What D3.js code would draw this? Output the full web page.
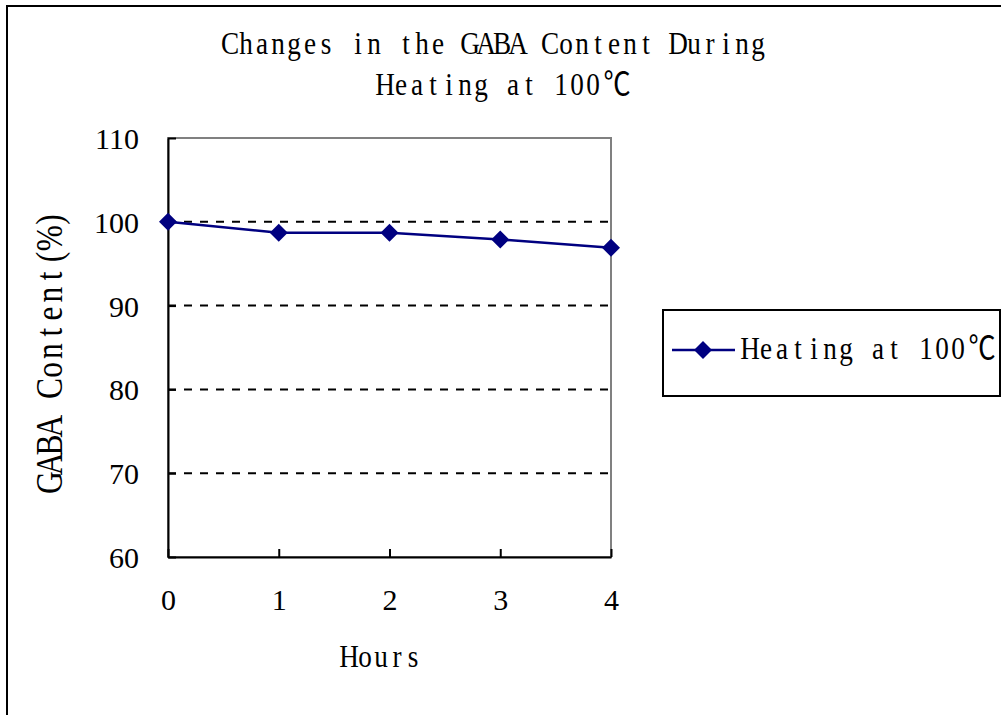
<!DOCTYPE html>
<html>
<head>
<meta charset="utf-8">
<script src="https://cdn.jsdelivr.net/npm/d3@7"></script>
<style>
  html, body { margin: 0; padding: 0; background: #fff; }
  svg { display: block; }
</style>
</head>
<body>
<svg id="chart" width="1001" height="715"></svg>
<script>
// ---- data ----
const hours = [0, 1, 2, 3, 4];
const gabaContent = [100, 98.7, 98.7, 97.9, 96.9];
const yTicks = [60, 70, 80, 90, 100, 110];
const gridValues = [70, 80, 90, 100];
const seriesName = "Heating at 100℃";
const titleLines = ["Changes in the GABA Content During", "Heating at 100℃"];
const xTitle = "Hours";
const yTitle = "GABA Content(%)";

const svg = d3.select("#chart");
const SERIF = "'Liberation Serif', 'Times New Roman', 'Noto Sans CJK SC', serif";

// Monospace-like text helper: each char placed in fixed cells; wide chars take 2 cells
function isWide(ch) { return ch.charCodeAt(0) > 0x2000; }
function mono(parent, str, o) {
  const chars = Array.from(str);
  let cum = 0;
  const centers = chars.map(ch => { const w = isWide(ch) ? 2 : 1; const c = (cum + w / 2) * o.cell; cum += w; return c; });
  const total = cum * o.cell;
  const x0 = o.anchor === "middle" ? -total / 2 : 0;
  const sx = o.sx || 1;
  const g = parent.append("g")
    .attr("transform", `translate(${o.x},${o.y})` + (o.rotate ? " rotate(-90)" : "") + ` scale(${sx},1)`);
  g.append("text")
    .attr("x", centers.map(c => ((c + x0) / sx).toFixed(2)).join(" "))
    .attr("y", 0)
    .attr("text-anchor", "middle")
    .attr("font-family", SERIF)
    .attr("font-size", o.size)
    .attr("fill", "#000")
    .text(str);
  return g;
}

// outer border
svg.append("rect").attr("x", 7).attr("y", 6).attr("width", 1100).attr("height", 800)
  .attr("fill", "none").attr("stroke", "#000").attr("stroke-width", 2);

// scales
const x = d3.scaleLinear().domain([0, 4]).range([168, 611]);
const y = d3.scaleLinear().domain([60, 110]).range([557, 138]);

// plot frame (gray top/right)
svg.append("rect").attr("x", x(0)).attr("y", y(110)).attr("width", x(4) - x(0)).attr("height", y(60) - y(110))
  .attr("fill", "#fff").attr("stroke", "#808080").attr("stroke-width", 2);

// gridlines
svg.append("g").selectAll("line").data(gridValues).join("line")
  .attr("x1", x(0)).attr("x2", x(4))
  .attr("y1", d => y(d)).attr("y2", d => y(d))
  .attr("stroke", "#000").attr("stroke-width", 2).attr("stroke-dasharray", "8,8");

// axes
const xAxis = svg.append("g").attr("transform", `translate(0,${y(60)})`)
  .call(d3.axisBottom(x).tickValues(hours).tickSizeInner(-8).tickSizeOuter(0).tickFormat(d3.format("d")));
const yAxis = svg.append("g").attr("transform", `translate(${x(0)},0)`)
  .call(d3.axisLeft(y).tickValues(yTicks).tickSizeInner(-8).tickSizeOuter(0).tickFormat(d3.format("d")));

[xAxis, yAxis].forEach(a => {
  a.select(".domain").attr("stroke", "#000").attr("stroke-width", 2);
  a.selectAll(".tick line").attr("stroke", "#000").attr("stroke-width", 2);
  a.selectAll(".tick text").attr("font-family", SERIF).attr("font-size", 30).attr("fill", "#000");
});
xAxis.selectAll(".tick text").attr("y", 53).attr("dy", null);
yAxis.selectAll(".tick text").attr("x", -29).attr("dy", "0.35em");

// series line
const pts = hours.map((h, i) => [h, gabaContent[i]]);
svg.append("path").datum(pts)
  .attr("d", d3.line().x(d => x(d[0])).y(d => y(d[1])))
  .attr("fill", "none").attr("stroke", "#000080").attr("stroke-width", 2.5);

const diamond = d3.symbol().type(d3.symbolSquare).size(162);
svg.append("g").selectAll("path").data(pts).join("path")
  .attr("d", diamond)
  .attr("transform", d => `translate(${x(d[0])},${y(d[1])}) rotate(45)`)
  .attr("fill", "#000080");

// title
mono(svg, titleLines[0], { x: 222, y: 54, cell: 16, size: 32, sx: 0.85 });
mono(svg, titleLines[1], { x: 377, y: 95, cell: 16, size: 32, sx: 0.85 });

// axis titles
mono(svg, xTitle, { x: 341, y: 667, cell: 16, size: 32, sx: 0.85 });
mono(svg, yTitle, { x: 62, y: 492, cell: 18.8, size: 37, sx: 0.85, rotate: true });

// legend
const lg = svg.append("g");
lg.append("rect").attr("x", 663).attr("y", 310).attr("width", 337).attr("height", 86)
  .attr("fill", "#fff").attr("stroke", "#000").attr("stroke-width", 2);
lg.append("line").attr("x1", 672).attr("x2", 735).attr("y1", 350).attr("y2", 350)
  .attr("stroke", "#000080").attr("stroke-width", 2.5);
lg.append("path").attr("d", diamond).attr("transform", "translate(703,350) rotate(45)").attr("fill", "#000080");
mono(lg, seriesName, { x: 742, y: 359, cell: 16, size: 32, sx: 0.85 });
</script>
</body>
</html>
